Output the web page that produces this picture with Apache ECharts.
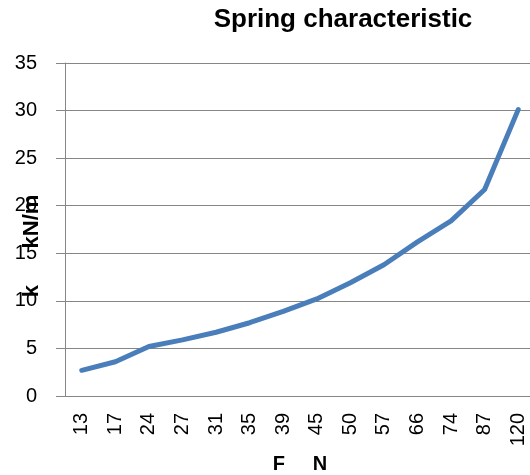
<!DOCTYPE html>
<html>
<head>
<meta charset="utf-8">
<script src="https://cdn.jsdelivr.net/npm/echarts@6/dist/echarts.min.js"></script>
<style>html,body{margin:0;padding:0;background:#fff}#c{width:530px;height:475px}</style>
</head>
<body>
<div id="c"></div>
<script>
const categories = ['13','17','24','27','31','35','39','45','50','57','66','74','87','120'];
const kValues = [2.7, 3.6, 5.2, 5.9, 6.7, 7.7, 8.9, 10.2, 11.9, 13.8, 16.2, 18.4, 21.7, 30.1];
const titleText = 'Spring characteristic';
const xName = 'F     N';
const yName = 'k      kN/m';
const FONT = '"Liberation Sans", Arial, sans-serif';

const chart = echarts.init(document.getElementById('c'), null, {renderer: 'canvas'});
chart.setOption({
  animation: false,
  backgroundColor: '#fff',
  title: {
    text: titleText,
    left: 338, top: 2, textAlign: 'center',
    textStyle: {fontFamily: FONT, fontWeight: 'bold', fontSize: 26, color: '#000'}
  },
  grid: {left: 65, top: 63, width: 470, height: 333, containLabel: false, outerBoundsMode: 'none'},
  xAxis: {
    type: 'category',
    data: categories,
    boundaryGap: true,
    name: xName,
    nameLocation: 'middle',
    nameGap: 57,
    nameTextStyle: {fontFamily: FONT, fontWeight: 'bold', fontSize: 20, color: '#000'},
    axisLine: {show: true, lineStyle: {color: '#868686', width: 1}},
    axisTick: {show: false},
    axisLabel: {rotate: 90, margin: 17, fontFamily: FONT, fontSize: 20, color: '#000', interval: 0}
  },
  yAxis: {
    type: 'value',
    min: 0, max: 35, interval: 5,
    axisLine: {show: true, lineStyle: {color: '#868686', width: 1}},
    axisTick: {show: true, length: 9, lineStyle: {color: '#868686'}},
    axisLabel: {margin: 28, fontFamily: FONT, fontSize: 20, color: '#000'},
    splitLine: {show: true, lineStyle: {color: '#868686', width: 1}}
  },
  graphic: [{
    type: 'text',
    x: 32, y: 246,
    rotation: Math.PI / 2,
    style: {text: yName, font: 'bold 22px ' + FONT, fill: '#000', align: 'center', verticalAlign: 'middle'}
  }],
  series: [{
    type: 'line',
    data: kValues,
    showSymbol: false,
    symbol: 'none',
    lineStyle: {color: '#4A7EBB', width: 5, cap: 'round', join: 'round'},
    itemStyle: {color: '#4A7EBB'}
  }]
});
</script>
</body>
</html>
